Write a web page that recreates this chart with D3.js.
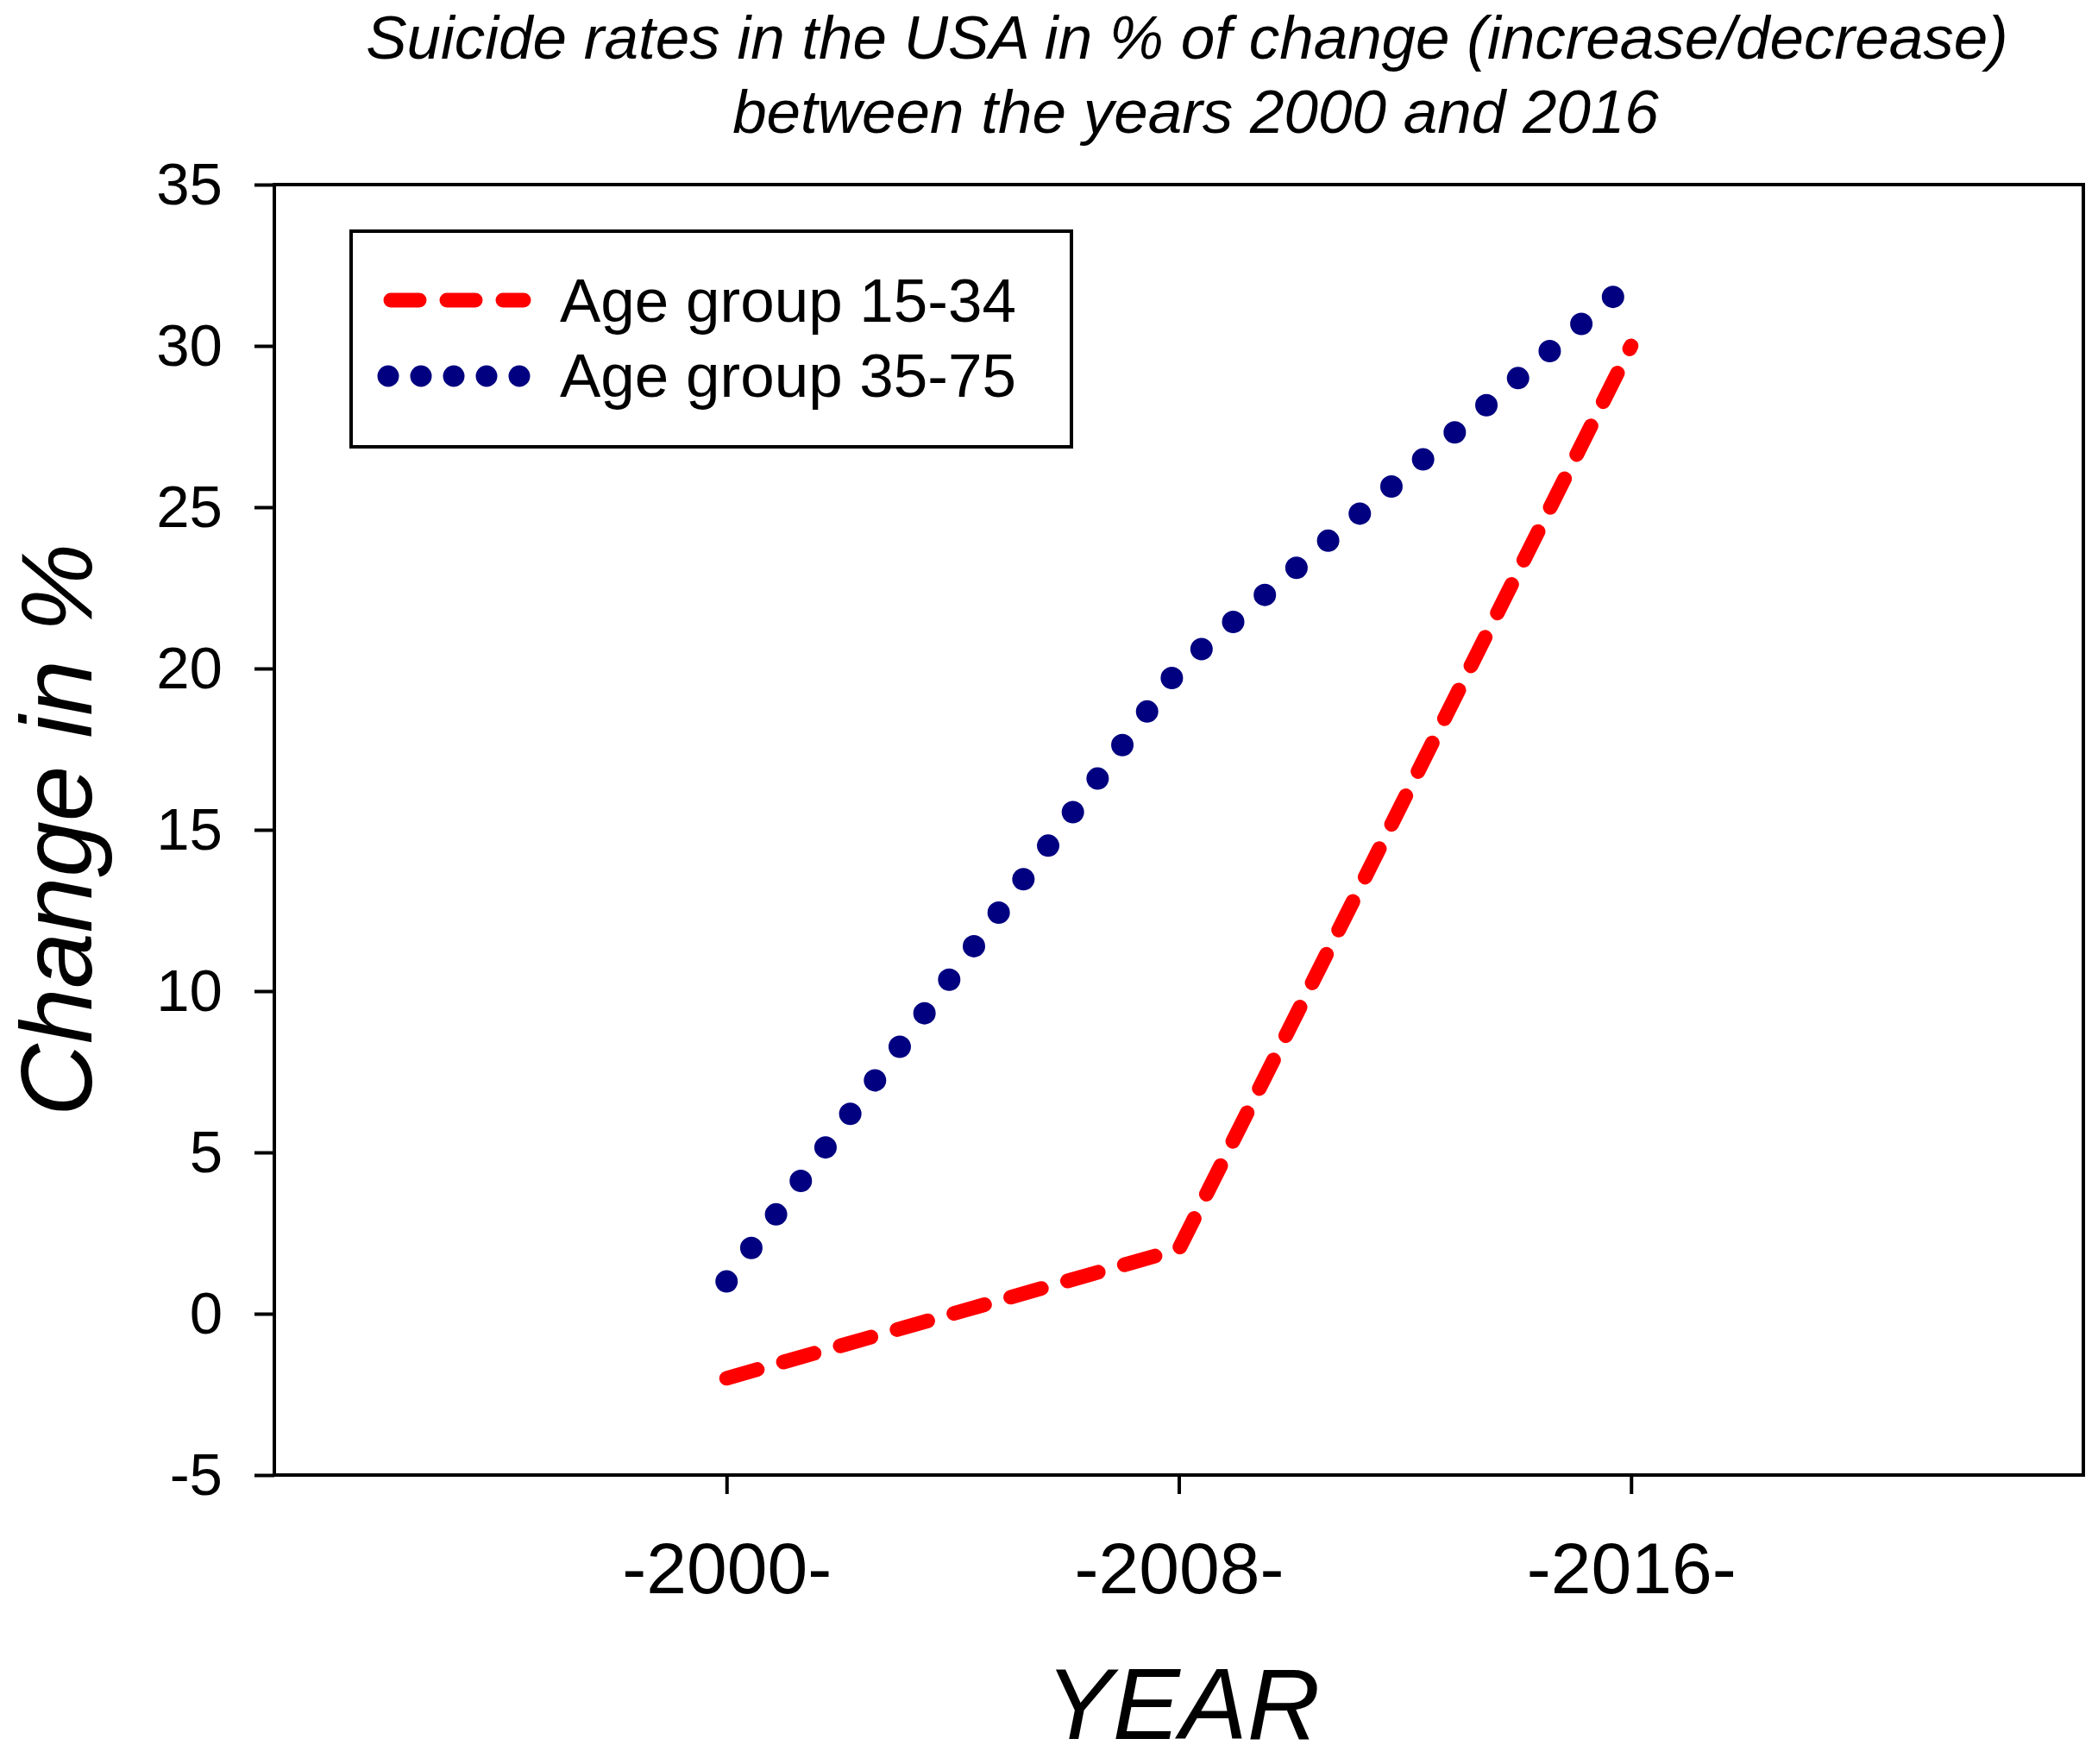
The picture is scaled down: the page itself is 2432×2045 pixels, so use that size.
<!DOCTYPE html>
<html>
<head>
<meta charset="utf-8">
<script src="https://cdn.jsdelivr.net/npm/d3@7"></script>
<style>
  body { margin: 0; background: #fff; }
  svg { display: block; font-family: "Liberation Sans", Arial, sans-serif; }
</style>
</head>
<body>
<div id="chart"></div>
<script>
var svgWidth = 2432;
var svgHeight = 2045;

var margin = { top: 214, right: 17, bottom: 335, left: 318 };

var width = svgWidth - margin.left - margin.right;
var height = svgHeight - margin.top - margin.bottom;

// data
var years = [2000, 2008, 2016];
var age15to34 = [-2, 2, 30];
var age35to75 = [1, 20, 32];
var seriesNames = ["Age group 15-34", "Age group 35-75"];
var yTicks = [-5, 0, 5, 10, 15, 20, 25, 30, 35];
var xTickLabels = ["-2000-", "-2008-", "-2016-"];

var svg = d3.select("#chart")
    .append("svg")
    .attr("width", svgWidth)
    .attr("height", svgHeight);

var chartGroup = svg.append("g")
    .attr("transform", `translate(${margin.left}, ${margin.top})`);

// scales
var xScale = d3.scaleLinear()
    .domain([1992, 2024])
    .range([0, width]);

var yScale = d3.scaleLinear()
    .domain([-5, 35])
    .range([height, 0]);

// axes
var leftAxis = d3.axisLeft(yScale)
    .tickValues(yTicks)
    .tickFormat(d => String(d))   // plain hyphen for -5
    .tickSize(23)
    .tickSizeOuter(0)
    .tickPadding(37);

var bottomAxis = d3.axisBottom(xScale)
    .tickValues(years)
    .tickFormat((d, i) => xTickLabels[i])
    .tickSize(22)
    .tickSizeOuter(0);

var yAxisG = chartGroup.append("g").call(leftAxis);
yAxisG.select(".domain").remove();
yAxisG.selectAll("line").attr("stroke", "#000").attr("stroke-width", 4);
yAxisG.selectAll("text")
    .attr("fill", "#000")
    .style("font-size", "69px")
    .style("font-family", "'Liberation Sans', Arial, sans-serif");

var xAxisG = chartGroup.append("g")
    .attr("transform", `translate(0, ${height})`)
    .call(bottomAxis);
xAxisG.select(".domain").remove();
xAxisG.selectAll("line").attr("stroke", "#000").attr("stroke-width", 4);
xAxisG.selectAll("text")
    .attr("fill", "#000")
    .attr("y", 137)
    .attr("dy", null)
    .style("font-size", "84px")
    .style("font-family", "'Liberation Sans', Arial, sans-serif");

// frame
chartGroup.append("rect")
    .attr("x", 0)
    .attr("y", 0)
    .attr("width", width)
    .attr("height", height)
    .attr("fill", "none")
    .attr("stroke", "#000")
    .attr("stroke-width", 4);

// lines
var lineGen = d3.line()
    .x((d, i) => xScale(years[i]))
    .y(d => yScale(d));

chartGroup.append("path")
    .datum(age15to34)
    .attr("d", lineGen)
    .attr("fill", "none")
    .attr("stroke", "#ff0000")
    .attr("stroke-width", 17)
    .attr("stroke-linecap", "round")
    .attr("stroke-dasharray", "37 31.5");

chartGroup.append("path")
    .datum(age35to75)
    .attr("d", lineGen)
    .attr("fill", "none")
    .attr("stroke", "#000080")
    .attr("stroke-width", 26)
    .attr("stroke-linecap", "round")
    .attr("stroke-dasharray", "0 48.3");

// legend
var legend = svg.append("g");

legend.append("rect")
    .attr("x", 407)
    .attr("y", 268)
    .attr("width", 835)
    .attr("height", 250)
    .attr("fill", "#fff")
    .attr("stroke", "#000")
    .attr("stroke-width", 4);

legend.append("line")
    .attr("x1", 453).attr("x2", 607)
    .attr("y1", 348).attr("y2", 348)
    .attr("stroke", "#ff0000")
    .attr("stroke-width", 17)
    .attr("stroke-linecap", "round")
    .attr("stroke-dasharray", "33 32");

legend.append("line")
    .attr("x1", 450).attr("x2", 603)
    .attr("y1", 436).attr("y2", 436)
    .attr("stroke", "#000080")
    .attr("stroke-width", 25)
    .attr("stroke-linecap", "round")
    .attr("stroke-dasharray", "0 38");

legend.selectAll(".legendText")
    .data(seriesNames)
    .enter()
    .append("text")
    .attr("class", "legendText")
    .attr("x", 649)
    .attr("y", (d, i) => 373 + i * 87)
    .style("font-size", "71px")
    .text(d => d);

// titles
svg.append("text")
    .attr("x", 1376)
    .attr("y", 68)
    .attr("text-anchor", "middle")
    .style("font-size", "71px")
    .style("font-style", "italic")
    .text("Suicide rates in the USA in % of change (increase/decrease)");

svg.append("text")
    .attr("x", 1386)
    .attr("y", 154)
    .attr("text-anchor", "middle")
    .style("font-size", "71px")
    .style("font-style", "italic")
    .text("between the years 2000 and 2016");

svg.append("text")
    .attr("transform", "translate(106, 962) rotate(-90)")
    .attr("text-anchor", "middle")
    .style("font-size", "116px")
    .style("font-style", "italic")
    .text("Change in %");

svg.append("text")
    .attr("x", 1371)
    .attr("y", 2016)
    .attr("text-anchor", "middle")
    .style("font-size", "117px")
    .style("font-style", "italic")
    .text("YEAR");
</script>
</body>
</html>
